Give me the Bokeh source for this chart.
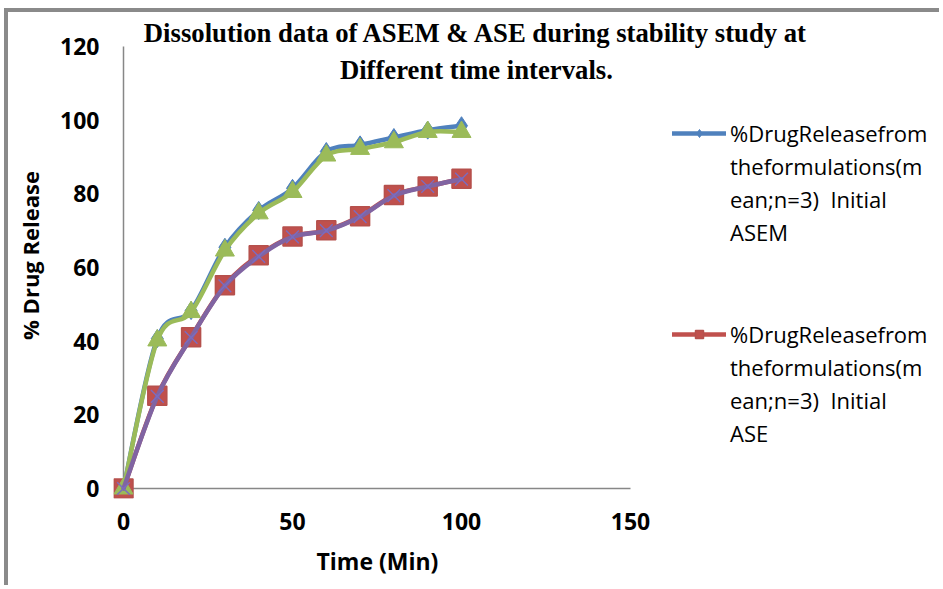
from bokeh.plotting import figure
from bokeh.models import Range1d, FixedTicker, Legend, LegendItem, Label, Title
from bokeh.embed import file_html
from bokeh.resources import INLINE

# ---- data ----
time_min = [0, 10, 20, 30, 40, 50, 60, 70, 80, 90, 100]
asem_initial = [0, 40.7, 48.3, 65.5, 75.5, 81.5, 91.5, 93.3, 95.3, 97.3, 98.5]
ase_initial = [0, 25.2, 41.1, 55.2, 63.3, 68.4, 70.1, 73.9, 79.7, 82.0, 84.1]
asem_stability = [0, 40.2, 47.9, 64.6, 74.7, 80.5, 90.4, 92.2, 94.0, 96.8, 96.8]
ase_stability = [0, 25.0, 41.0, 55.0, 63.0, 68.3, 70.0, 73.8, 79.5, 82.0, 84.0]
x_ticks = [0, 50, 100, 150]
y_ticks = [0, 20, 40, 60, 80, 100, 120]
legend_lines_asem = ["%DrugReleasefrom", "theformulations(m", "ean;n=3)  Initial", "ASEM"]
legend_lines_ase = ["%DrugReleasefrom", "theformulations(m", "ean;n=3)  Initial", "ASE"]
title_lines = ["Dissolution data of ASEM & ASE during stability study at",
               "Different time intervals."]
x_label = "Time (Min)"
y_label = "% Drug Release"

BLUE, RED, GREEN, PURPLE = "#4F81BD", "#C0504D", "#9BBB59", "#8064A2"
AXIS_GREY = "#878787"
FONT = "Open Sans"

# the frame reaches a little left of / below the origin so that the origin markers
# are not clipped, and up/right to the page edges so the title and legend fit inside
p = figure(width=935, height=577, output_backend="svg", toolbar_location=None,
           x_range=Range1d(-2.959, 242.6), y_range=Range1d(-2.715, 129.24),
           min_border_left=105, min_border_top=0, min_border_right=0,
           min_border_bottom=91)
p.styles = {"margin-left": "4px", "margin-top": "8px",
            "border-left": "4px solid #8a8a8a", "border-top": "4px solid #8a8a8a"}
p.outline_line_color = None
p.grid.visible = False
p.background_fill_color = "white"
p.border_fill_color = "white"

for ax in (p.xaxis[0], p.yaxis[0]):
    ax.axis_line_color = None
    ax.major_tick_line_color = None
    ax.minor_tick_line_color = None
    ax.major_tick_out = 0
    ax.major_tick_in = 0
    ax.minor_tick_out = 0
    ax.major_label_text_font = FONT
    ax.major_label_text_font_style = "bold"
    ax.major_label_text_font_size = "23px"
    ax.major_label_text_color = "black"
    ax.axis_label_text_font = FONT
    ax.axis_label_text_font_style = "bold"
    ax.axis_label_text_color = "black"

p.yaxis.axis_label_text_font_size = "22px"
p.xaxis.ticker = FixedTicker(ticks=x_ticks)
p.yaxis.ticker = FixedTicker(ticks=y_ticks)
p.xaxis.major_label_standoff = 14
p.yaxis.major_label_standoff = 14
p.yaxis.axis_label_standoff = 12
p.yaxis.axis_label = y_label

# x-axis title, centred under the 0-150 axis (not under the wider frame)
p.add_layout(Title(text=x_label, align="left", offset=203, standoff=20,
                   text_font=FONT, text_font_style="bold", text_font_size="23px",
                   text_color="black"), "below")

# axis lines along x=0 and y=0 over the tick extents
p.segment(x0=[x_ticks[0], 0], y0=[0, y_ticks[0]], x1=[x_ticks[-1], 0],
          y1=[0, y_ticks[-1]], line_color=AXIS_GREY, line_width=1.5)


def smooth(xs, ys):
    n = len(xs)
    x0, y0, x1, y1, cx0, cy0, cx1, cy1 = ([] for _ in range(8))
    for i in range(n - 1):
        xm, ym = (xs[i - 1], ys[i - 1]) if i > 0 else (xs[i], ys[i])
        xp, yp = (xs[i + 2], ys[i + 2]) if i + 2 < n else (xs[i + 1], ys[i + 1])
        x0.append(xs[i]); y0.append(ys[i])
        x1.append(xs[i + 1]); y1.append(ys[i + 1])
        cx0.append(xs[i] + (xs[i + 1] - xm) / 6); cy0.append(ys[i] + (ys[i + 1] - ym) / 6)
        cx1.append(xs[i + 1] - (xp - xs[i]) / 6); cy1.append(ys[i + 1] - (yp - ys[i]) / 6)
    return dict(x0=x0, y0=y0, x1=x1, y1=y1, cx0=cx0, cy0=cy0, cx1=cx1, cy1=cy1)


def series(ys, color, marker, size, lw=4.5, mline=None, mlw=1):
    line = p.bezier(**smooth(time_min, ys), line_color=color, line_width=lw,
                    line_cap="round")
    sc = p.scatter(time_min, ys, marker=marker, size=size, fill_color=color,
                   line_color=mline or color, line_width=mlw)
    return line, sc


bl, bs = series(asem_initial, BLUE, "diamond", 18)
rl, rs = series(ase_initial, RED, "square", 19, mline="#B5504C", mlw=1.5)
gl, gs = series(asem_stability, GREEN, "triangle", 19)
pl, ps = series(ase_stability, PURPLE, "x", 18, mline="#7A6CC0", mlw=1.4)

# one legend row per wrapped text line; the glyph sits on the first row
items = [LegendItem(label=legend_lines_asem[0], renderers=[bl, bs])]
items += [LegendItem(label=t, renderers=[]) for t in legend_lines_asem[1:]]
items += [LegendItem(label=" ", renderers=[]) for _ in range(3)]
items += [LegendItem(label=legend_lines_ase[0], renderers=[rl, rs])]
items += [LegendItem(label=t, renderers=[]) for t in legend_lines_ase[1:]]

legend = Legend(items=items, location=(559, 50))
legend.padding = 0
legend.margin = 0
legend.spacing = 3
legend.glyph_width = 54
legend.glyph_height = 20
legend.label_height = 20
legend.label_standoff = 4
legend.label_text_font = FONT
legend.label_text_font_size = "22px"
legend.label_text_color = "black"
legend.border_line_alpha = 0
legend.background_fill_alpha = 0
p.add_layout(legend, "center")

for yv, txt in zip([123.8, 113.5], title_lines):
    p.add_layout(Label(x=104.4, y=yv, text=txt, text_align="center",
                       text_baseline="middle", text_font="Liberation Serif",
                       text_font_style="bold", text_font_size="26.7px",
                       text_color="black"))

open("out.html", "w").write(file_html(p, INLINE))
